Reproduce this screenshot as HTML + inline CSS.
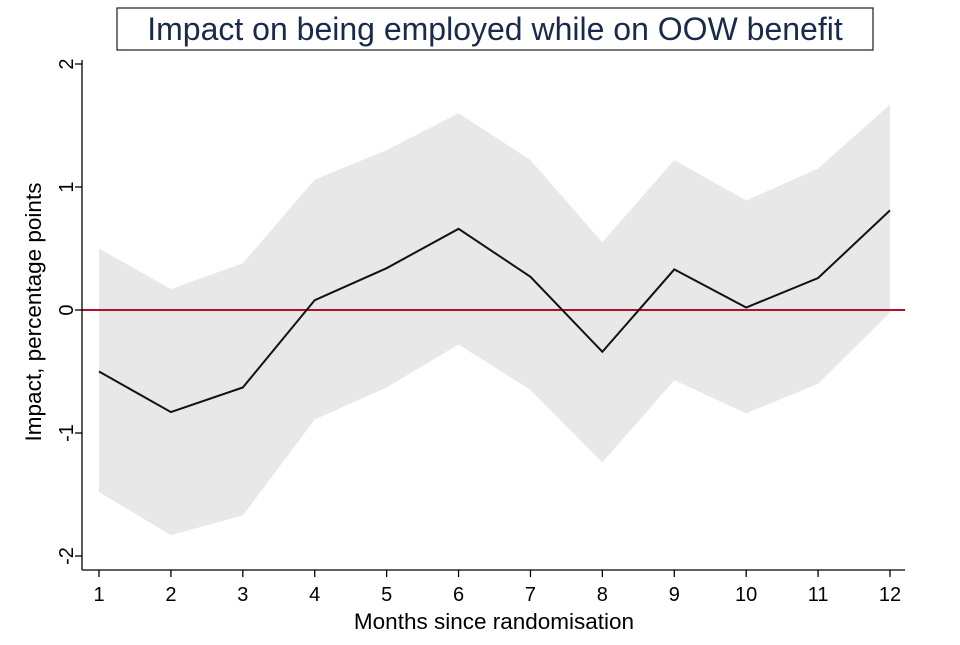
<!DOCTYPE html>
<html><head><meta charset="utf-8"><style>
body{margin:0;background:#fff;width:960px;height:640px;overflow:hidden}
svg{font-family:"Liberation Sans",Arial,sans-serif}
</style></head><body>
<svg id="chart" width="960" height="640">
<rect x="117" y="8" width="756" height="42" fill="#fff" stroke="#1a1a2e" stroke-width="1.2"/>
<text x="495" y="40" text-anchor="middle" font-size="32" fill="#1a2a4a">Impact on being employed while on OOW benefit</text>
<g id="band"></g><g id="zero"></g><g id="line"></g><g id="axes"></g>
<text transform="translate(41,312) rotate(-90)" text-anchor="middle" font-size="22.5">Impact, percentage points</text>
<text x="494" y="629" text-anchor="middle" font-size="22.5">Months since randomisation</text>
</svg>
<script>
const months=[1,2,3,4,5,6,7,8,9,10,11,12];
const impact=[-0.50,-0.83,-0.63,0.08,0.34,0.66,0.27,-0.34,0.33,0.02,0.26,0.81];
const upper=[0.50,0.17,0.38,1.06,1.30,1.60,1.22,0.55,1.22,0.89,1.15,1.67];
const lower=[-1.48,-1.83,-1.67,-0.89,-0.63,-0.28,-0.65,-1.24,-0.57,-0.84,-0.60,-0.02];
const yTicks=[-2,-1,0,1,2];
const NS="http://www.w3.org/2000/svg";
const X=m=>99+(m-1)*(890-99)/11;
const Y=v=>310-v*123;
function mk(t,a,p){const e=document.createElementNS(NS,t);for(const k in a)e.setAttribute(k,a[k]);p.appendChild(e);return e;}
let d=months.map((m,i)=>(i?'L':'M')+X(m)+','+Y(upper[i])).join('');
for(let i=months.length-1;i>=0;i--)d+='L'+X(months[i])+','+Y(lower[i]);
const band=mk('path',{d:d+'Z',fill:'#e8e8e8'},document.getElementById('band'));


const z=mk('line',{x1:82,x2:905,y1:Y(0),y2:Y(0),stroke:'#b0102a','stroke-width':2},document.getElementById('zero'));


const ln=mk('path',{d:months.map((m,i)=>(i?'L':'M')+X(m)+','+Y(impact[i])).join(''),fill:'none',stroke:'#111','stroke-width':2},document.getElementById('line'));


const ax=document.getElementById('axes');
const ya=mk('line',{x1:82,x2:82,y1:60,y2:570,stroke:'#000','stroke-width':1.3},ax);


const xa=mk('line',{x1:82,x2:905,y1:570,y2:570,stroke:'#000','stroke-width':1.3},ax);


yTicks.forEach(v=>{
 mk('line',{x1:75,x2:82,y1:Y(v),y2:Y(v),stroke:'#000','stroke-width':1.3},ax);
 const t=mk('text',{transform:`translate(73,${Y(v)}) rotate(-90)`,'text-anchor':'middle','font-size':20},ax);
 t.textContent=v;
 
 
});
months.forEach(m=>{
 mk('line',{x1:X(m),x2:X(m),y1:570,y2:577,stroke:'#000','stroke-width':1.3},ax);
 const t=mk('text',{x:X(m),y:601,'text-anchor':'middle','font-size':20},ax);
 t.textContent=m;
 
 
});
</script>
</body></html>
